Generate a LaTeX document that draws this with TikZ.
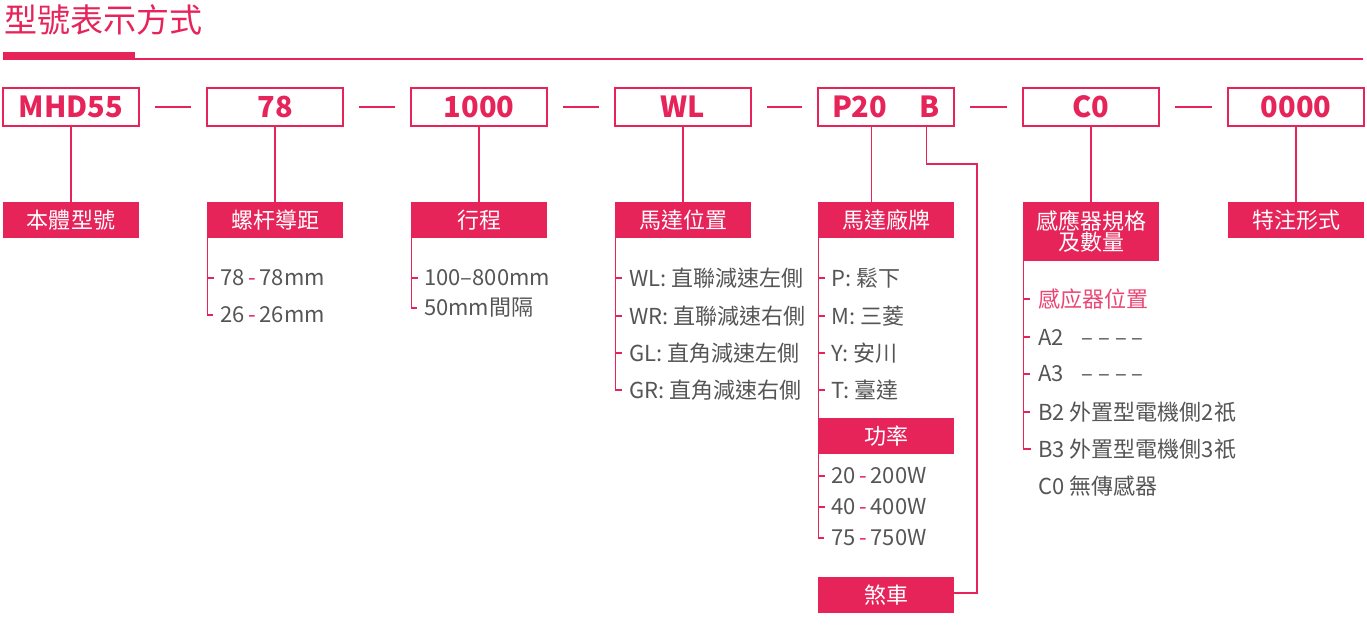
\documentclass[tikz,border=0pt]{standalone}
\usepackage{fontspec}
\setmainfont{Noto Sans CJK TC}
\usetikzlibrary{calc}
\definecolor{crim}{HTML}{E6245A}
\definecolor{txt}{HTML}{555555}
\newcommand{\rd}[1]{{\color{crim}#1}}
\begin{document}
\begin{tikzpicture}[x=1pt,y=-1pt,
  titletext/.style={anchor=west, text=crim, inner sep=0pt, font=\fontsize{33}{36}\selectfont},
  codebox/.style={draw=crim, line width=1.5pt, minimum width=136pt, minimum height=38pt, inner sep=0pt, text=crim, font=\fontsize{29}{30}\selectfont\bfseries},
  labbox/.style={fill=crim, minimum width=136pt, minimum height=36pt, inner sep=0pt, text=white, align=center, font=\fontsize{22}{25}\selectfont},
  item/.style={anchor=west, text=txt, inner sep=0pt, font=\fontsize{22}{24}\selectfont},
  link/.style={draw=crim, line width=1.5pt},
  tick/.style={draw=crim, line width=1.5pt},
]
\useasboundingbox (0,0) rectangle (1367,641);
% title
\node[titletext] (title) at (4,20) {型號表示方式};
\fill[crim] (3,52) rectangle (135,60);
\draw[crim, line width=1.5pt] (135,59.2) -- (1363,59.2);
% code boxes
\node[codebox] (c1) at (71,107) {MHD55};
\node[codebox] (c2) at (275,107) {78};
\node[codebox] (c3) at (479,107) {1000};
\node[codebox] (c4) at (683,107) {WL};
\node[codebox] (c5) at (886,107) {\makebox[108pt]{P20\hfill B}};
\node[codebox] (c6) at (1091,107) {C0};
\node[codebox] (c7) at (1296,107) {0000};
\foreach \a/\b in {c1/c2,c2/c3,c3/c4,c4/c5,c5/c6,c6/c7}
  \draw[link, shorten <=15pt, shorten >=15pt] (\a.east) -- (\b.west);
% label boxes
\node[labbox] (l1) at (71,220) {本體型號};
\node[labbox] (l2) at (275,220) {螺杆導距};
\node[labbox] (l3) at (479,220) {行程};
\node[labbox] (l4) at (683,220) {馬達位置};
\node[labbox] (l5) at (886,220) {馬達廠牌};
\node[labbox, minimum height=59pt] (l6) at (1091,231.5) {感應器規格\\[-4pt]及數量};
\node[labbox] (l7) at (1296,220) {特注形式};
\node[labbox] (l5b) at (886,436) {功率};
\node[labbox] (l5c) at (886,595) {煞車};
% vertical links
\draw[link] (c1.south) -- (l1.north);
\draw[link] (c2.south) -- (l2.north);
\draw[link] (c3.south) -- (l3.north);
\draw[link] (c4.south) -- (l4.north);
\draw[link] (c6.south) -- (l6.north);
\draw[link] (c7.south) -- (l7.north);
\coordinate (p20) at ($(c5.south west)+(54,0)$);
\coordinate (bb) at ($(c5.south west)+(109,0)$);
\draw[link] (p20) -- (p20 |- l5.north);
\coordinate (brk) at ($(l5c.east)+(23,-2)$);
\draw[link] (bb) -- ++(0,37) -| (brk) -- (l5c.east |- brk);
% screw lead
\node[item] (i21) at (220,278) {78\,\rd{-}\,78mm};
\node[item] (i22) at (220,315) {26\,\rd{-}\,26mm};
\draw[link] ([xshift=0.7pt]l2.south west) |- ([xshift=-7pt]i22.west);
\draw[tick] ([xshift=0.7pt]l2.south west |- i21.west) -- ++(6,0);
% stroke
\node[item] (i31) at (424,278) {100–800mm};
\node[item] (i32) at (424,308) {50mm間隔};
\draw[link] ([xshift=0.7pt]l3.south west) |- ([xshift=-7pt]i32.west);
\draw[tick] ([xshift=0.7pt]l3.south west |- i31.west) -- ++(6,0);
% motor position
\node[item] (i41) at (629,278) {WL: 直聯減速左側};
\node[item] (i42) at (629,316) {WR: 直聯減速右側};
\node[item] (i43) at (629,353) {GL: 直角減速左側};
\node[item] (i44) at (629,390) {GR: 直角減速右側};
\draw[link] ([xshift=0.7pt]l4.south west) |- ([xshift=-7pt]i44.west);
\foreach \n in {i41,i42,i43}
  \draw[tick] ([xshift=0.7pt]l4.south west |- \n.west) -- ++(6,0);
% motor brand
\node[item] (i51) at (831,278) {P: 鬆下};
\node[item] (i52) at (831,316) {M: 三菱};
\node[item] (i53) at (831,353) {Y: 安川};
\node[item] (i54) at (831,390) {T: 臺達};
\draw[link] ([xshift=0.7pt]l5.south west) -- ([xshift=0.7pt]l5b.north west);
\foreach \n in {i51,i52,i53,i54}
  \draw[tick] ([xshift=0.7pt]l5.south west |- \n.west) -- ++(6,0);
% power
\node[item] (p1) at (831,476) {20\,\rd{-}\,200W};
\node[item] (p2) at (831,507) {40\,\rd{-}\,400W};
\node[item] (p3) at (831,538) {75\,\rd{-}\,750W};
\draw[link] ([xshift=0.7pt]l5b.south west) |- ([xshift=-7pt]p3.west);
\foreach \n in {p1,p2}
  \draw[tick] ([xshift=0.7pt]l5b.south west |- \n.west) -- ++(6,0);
% sensors
\node[item, text=crim!85] (s1) at (1038,299) {感应器位置};
\node[item] (s2) at (1038,337) {A2\hspace{18pt}– – – –};
\node[item] (s3) at (1038,374) {A3\hspace{18pt}– – – –};
\node[item] (s4) at (1038,412) {B2 外置型電機側2祇};
\node[item] (s5) at (1038,449) {B3 外置型電機側3祇};
\node[item] (s6) at (1038,486) {C0 無傳感器};
\draw[link] ([xshift=0.7pt]l6.south west) |- ([xshift=-7pt]s5.west);
\foreach \n in {s1,s2,s3,s4}
  \draw[tick] ([xshift=0.7pt]l6.south west |- \n.west) -- ++(6,0);
\end{tikzpicture}
\end{document}
